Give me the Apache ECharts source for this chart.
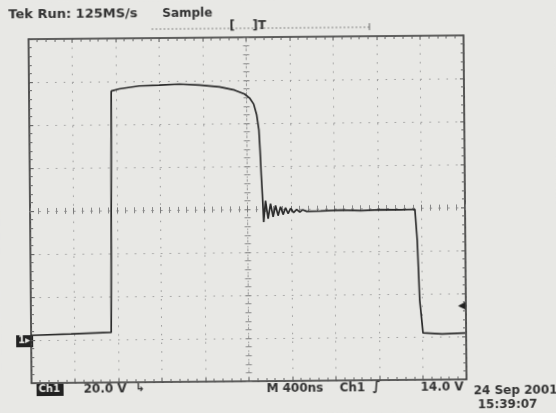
<!DOCTYPE html>
<html>
<head>
<meta charset="utf-8">
<script src="https://cdn.jsdelivr.net/npm/echarts@6/dist/echarts.min.js"></script>
<style>
  html, body { margin: 0; padding: 0; background: #e8e8e5; overflow: hidden; }
  /* the scanned screen shot sits slightly tilted */
  #scope { width: 556px; height: 413px; transform: rotate(-0.5deg); }
</style>
</head>
<body>
<div id="scope"></div>
<script>
// time in ns (400 ns/div, 10 div), volts relative to screen centre (20 V/div)
const timeNs = [
  0, 369, 737, 752, 756, 830, 1014, 1198, 1383, 1567, 1751, 1889, 1982, 2028,
  2065, 2092, 2111, 2120, 2129, 2138, 2148, 2166, 2189, 2212, 2235, 2258, 2281,
  2304, 2327, 2350, 2373, 2396, 2424, 2452, 2479, 2507, 2544, 2673, 2857, 3042,
  3226, 3410, 3539, 3548, 3558, 3576, 3604, 3613, 3779, 3991
];
const volts = [
  -57.8, -57.3, -56.7, -56.5, 55.5, 56.5, 57.8, 58.1, 58.5, 58.0, 57.0, 55.5, 53.6, 51.7,
  48.9, 43.8, 36.8, 27.5, 15.9, 6.6, -6.0, 3.9, -4.5, 2.5, -3.6, 1.6, -3.1,
  1.1, -2.6, 0.6, -2.2, 0.2, -1.7, -0.3, -1.5, -0.5, -1.2, -1.1, -0.8, -1.1,
  -0.8, -0.9, -0.7, -0.7, -15.0, -42.9, -58.2, -58.9, -58.8, -58.4
];
const xDivs = [0, 4000, 400];
const yDivs = [-80, 80, 20];

const gridRect = { left: 30, top: 37, width: 435, height: 344 };
const dots = [1.5, 7.2];
const ink = '#333';
const font = 'bold 12px "DejaVu Sans"';

let chart = echarts.init(document.getElementById('scope'));

let frameAxis = (pos, grid, range, extra) => Object.assign({
  type: 'value', gridIndex: grid, position: pos,
  min: range[0], max: range[1], interval: range[2],
  axisLabel: { show: false },
  axisLine: { show: true, onZero: false, lineStyle: { color: '#333', width: 1.6 } },
  axisTick: { show: true, inside: true, length: 4, lineStyle: { color: '#555' } },
  minorTick: { show: true, splitNumber: 5, length: 3, lineStyle: { color: '#666' } },
  splitLine: { show: false }
}, extra || {});

// centre cross-hair axes with ticks on both sides
let centre = (offset) => ({
  offset: offset,
  axisLine: { show: true, onZero: false, lineStyle: { color: '#999', width: 1, type: dots } },
  axisTick: { show: true, inside: false, length: 3, lineStyle: { color: '#777' } },
  minorTick: { show: true, splitNumber: 5, length: 3, lineStyle: { color: '#888' } }
});

let dotted = { splitLine: { show: true, lineStyle: { color: '#999', width: 1, type: dots } } };

const option = {
  backgroundColor: '#e8e8e5',
  animation: false,
  grid: [
    Object.assign({}, gridRect),
    Object.assign({}, gridRect)
  ],
  xAxis: [
    frameAxis('bottom', 0, xDivs, dotted),
    frameAxis('top', 0, xDivs),
    frameAxis('bottom', 1, xDivs, centre(-gridRect.height / 2)),
    frameAxis('top', 1, xDivs, centre(-gridRect.height / 2))
  ],
  yAxis: [
    frameAxis('left', 0, yDivs, dotted),
    frameAxis('right', 0, yDivs),
    frameAxis('left', 1, yDivs, centre(-gridRect.width / 2)),
    frameAxis('right', 1, yDivs, centre(-gridRect.width / 2))
  ],
  series: [
    {
      type: 'line',
      xAxisIndex: 0,
      yAxisIndex: 0,
      showSymbol: false,
      lineStyle: { color: '#2b2b2b', width: 1.7 },
      data: timeNs.map((t, i) => [t, volts[i]]),
      z: 5
    }
  ],
  graphic: [
    { type: 'text', left: 10, top: 6, style: { text: 'Tek Run: 125MS/s', fill: ink, font: 'bold 13px "DejaVu Sans"' } },
    { type: 'text', left: 164, top: 7, style: { text: 'Sample', fill: ink, font: font } },
    // record bar
    { type: 'line', shape: { x1: 153, y1: 28, x2: 371, y2: 28 }, style: { stroke: '#888', lineWidth: 1, lineDash: [2, 2] } },
    { type: 'line', shape: { x1: 371, y1: 24, x2: 371, y2: 31 }, style: { stroke: '#666', lineWidth: 1 } },
    { type: 'text', left: 231, top: 20, style: { text: '[', fill: ink, font: font } },
    { type: 'text', left: 254, top: 20, style: { text: ']T', fill: ink, font: font } },
    // channel ground marker
    { type: 'rect', shape: { x: 15, y: 333, width: 17, height: 12 }, style: { fill: '#222' } },
    { type: 'text', left: 17, top: 333, style: { text: '1▸', fill: '#e8e8e5', font: 'bold 10px "DejaVu Sans"' } },
    // trigger level marker
    { type: 'text', left: 457, top: 302, style: { text: '◀', fill: '#222', font: '10px "DejaVu Sans"' } },
    // bottom readouts
    { type: 'rect', shape: { x: 35, y: 382, width: 27, height: 12 }, style: { fill: '#222' } },
    { type: 'text', left: 37, top: 382, style: { text: 'Ch1', fill: '#e8e8e5', font: 'bold 10px "DejaVu Sans"' } },
    { type: 'text', left: 82, top: 382, style: { text: '20.0 V', fill: ink, font: font } },
    { type: 'text', left: 134, top: 382, style: { text: '↳', fill: ink, font: 'bold 11px "DejaVu Sans"' } },
    { type: 'text', left: 265, top: 383, style: { text: 'M', fill: ink, font: font } },
    { type: 'text', left: 281, top: 383, style: { text: '400ns', fill: ink, font: font } },
    { type: 'text', left: 338, top: 383, style: { text: 'Ch1', fill: ink, font: font } },
    { type: 'text', left: 371, top: 381, style: { text: '∫', fill: ink, font: 'bold 13px "DejaVu Sans"' } },
    { type: 'text', left: 419, top: 383, style: { text: '14.0 V', fill: ink, font: font } },
    { type: 'text', left: 472, top: 387, style: { text: '24 Sep 2001', fill: ink, font: font } },
    { type: 'text', left: 476, top: 401, style: { text: '15:39:07', fill: ink, font: font } }
  ]
};

chart.setOption(option);
</script>
</body>
</html>
